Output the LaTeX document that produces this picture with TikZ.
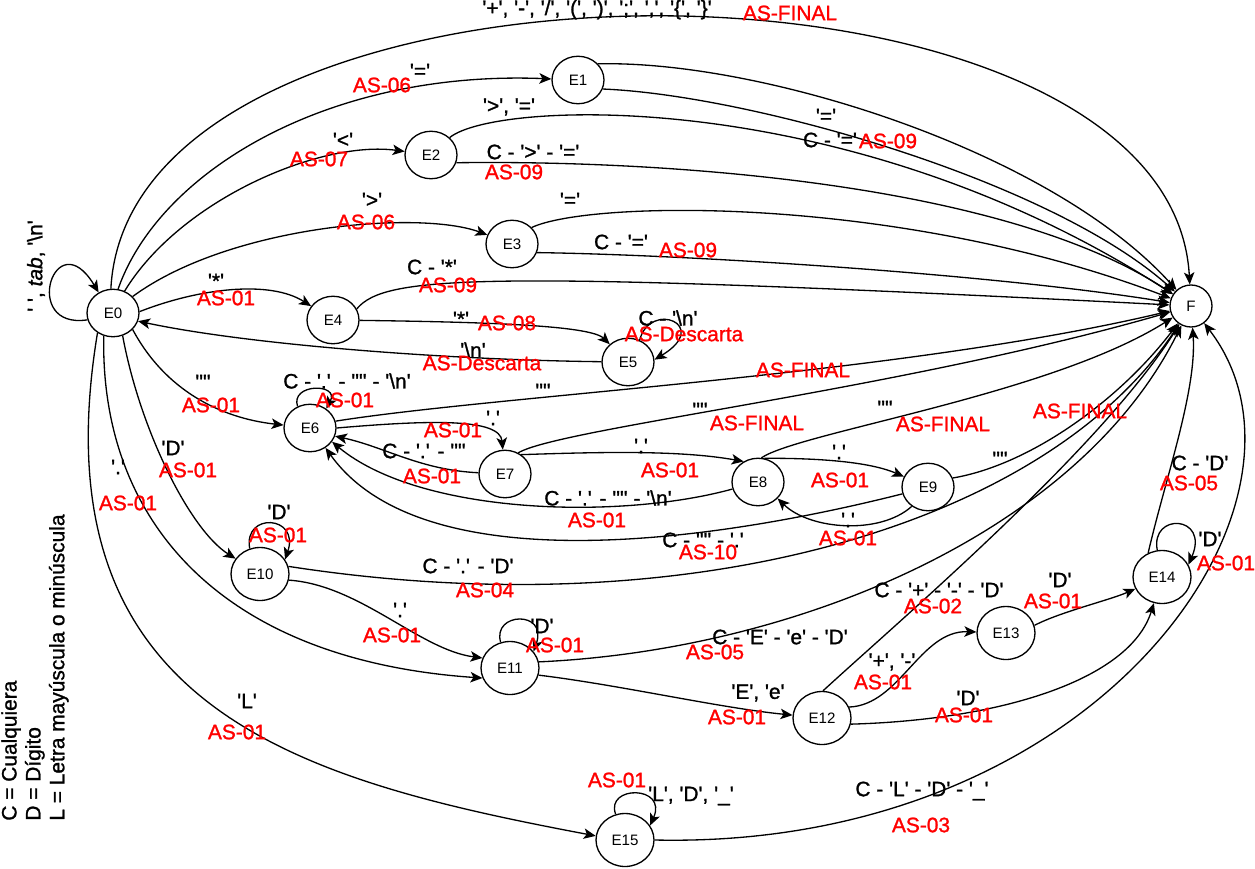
\documentclass[tikz,border=0pt]{standalone}
\usepackage{fontspec}
\setmainfont{Liberation Sans}[Ligatures=TeXOff]
\newfontfamily\lblfamily{Liberation Sans}[Ligatures=TeXOff, FakeBold=1.2]
\usetikzlibrary{arrows.meta,shapes.geometric}
\newcommand\lblsize{\lblfamily\fontsize{11.9pt}{13.6pt}\selectfont}
\newcommand\stsize{\fontsize{8.6pt}{10pt}\selectfont}
\newcommand\bsl{\textbackslash}
\definecolor{asred}{RGB}{255,0,0}
\begin{document}
\begin{tikzpicture}[x=0.02cm,y=-0.02cm,
  st/.style={draw, ellipse, line width=0.75pt, fill=white, inner sep=0pt,
    minimum width=1.04cm, minimum height=0.95cm, font=\stsize},
  stbig/.style={st, minimum width=1.16cm, minimum height=1.06cm},
  fin/.style={st, circle, minimum size=0.84cm},
  ed/.style={line width=0.75pt, -{Stealth[length=2.4mm,width=2.1mm,inset=0.6mm]}},
  lb/.style={font=\lblsize, inner sep=0pt, text=black},
  lr/.style={font=\lblsize, inner sep=0pt, text=asred}]
\useasboundingbox (0,0) rectangle (1255,869);

% states
\node[st] (E0) at (113,313) {E0};
\node[st] (E1) at (578,80) {E1};
\node[st] (E2) at (431,155) {E2};
\node[st] (E3) at (512,244) {E3};
\node[st] (E4) at (333,320) {E4};
\node[st] (E5) at (628,362) {E5};
\node[st] (E6) at (310,428) {E6};
\node[st] (E7) at (505,474) {E7};
\node[st] (E8) at (758,482) {E8};
\node[st] (E9) at (928,487) {E9};
\node[stbig] (E10) at (260,574) {E10};
\node[stbig] (E11) at (510,668) {E11};
\node[stbig] (E12) at (822,718) {E12};
\node[stbig] (E13) at (1006,633) {E13};
\node[stbig] (E14) at (1162,577) {E14};
\node[stbig] (E15) at (625,840) {E15};
\node[fin] (F) at (1191,306) {F};

% transitions
\draw[ed] (E0.195) .. controls (20,330) and (55,220) .. (E0.125);
\draw[ed] (E0.95) .. controls (130,-73) and (1170,-73) .. (F);
\draw[ed] (E0.78) .. controls (160,170) and (330,70) .. (E1);
\draw[ed] (E0.62) .. controls (180,200) and (320,140) .. (E2);
\draw[ed] (E0.40) .. controls (230,225) and (420,210) .. (E3);
\draw[ed] (E0.3) .. controls (200,288) and (270,280) .. (E4);
\draw[ed] (E5) .. controls (450,360) and (250,345) .. (E0.-18);
\draw[ed] (E4) .. controls (480,322) and (590,325) .. (E5);
\draw[ed] (E5.62) .. controls (650,300) and (712,325) .. (E5.5);
\draw[ed] (E4.25) .. controls (385,275) and (480,270) .. (F);
\draw[ed] (E1.39) .. controls (760,60) and (1050,150) .. (F);
\draw[ed] (E1.-20) .. controls (750,95) and (1050,180) .. (F);
\draw[ed] (E2.43) .. controls (495,100) and (850,85) .. (F);
\draw[ed] (E2.-17) .. controls (650,160) and (1000,180) .. (F);
\draw[ed] (E3.40) .. controls (590,200) and (900,195) .. (F);
\draw[ed] (E3.-19) .. controls (700,255) and (1000,275) .. (F);
\draw[ed] (E0.-40) .. controls (165,390) and (220,418) .. (E6);
\draw[ed] (E6.120) .. controls (290,383) and (340,383) .. (E6.50);
\draw[ed] (E6.15) .. controls (500,395) and (900,375) .. (F);
\draw[ed] (E6.0) .. controls (430,420) and (500,418) .. (E7);
\draw[ed] (E7) .. controls (420,470) and (385,447) .. (E6.-18);
\draw[ed] (E7.58) .. controls (560,428) and (900,390) .. (F);
\draw[ed] (E7.50) .. controls (600,452) and (680,450) .. (E8.125);
\draw[ed] (E8.82) .. controls (800,432) and (1050,395) .. (F);
\draw[ed] (E8.75) .. controls (820,458) and (870,462) .. (E9);
\draw[ed] (E8) .. controls (620,520) and (420,515) .. (E6.-32);
\draw[ed] (E9.-130) .. controls (880,535) and (810,530) .. (E8.-40);
\draw[ed] (E9.195) .. controls (700,545) and (420,580) .. (E6.-52);
\draw[ed] (E9.20) .. controls (1030,465) and (1120,400) .. (F);
\draw[ed] (E0.-67) .. controls (140,430) and (190,530) .. (E10);
\draw[ed] (E10.112) .. controls (243,512) and (300,515) .. (E10.30);
\draw[ed] (E10.15) .. controls (700,630) and (1050,520) .. (F);
\draw[ed] (E10.-12) .. controls (360,585) and (420,650) .. (E11.160);
\draw[ed] (E0.-112) .. controls (100,520) and (220,660) .. (E11.200);
\draw[ed] (E0.-128) .. controls (35,710) and (300,780) .. (E15.172);
\draw[ed] (E11.110) .. controls (492,612) and (548,610) .. (E11.35);
\draw[ed] (E11.12) .. controls (800,650) and (1080,530) .. (F);
\draw[ed] (E11.-14) .. controls (620,685) and (720,708) .. (E12);
\draw[ed] (E12.88) .. controls (900,620) and (1100,450) .. (F);
\draw[ed] (E12.22) .. controls (900,705) and (920,630) .. (E13);
\draw[ed] (E12.-12) .. controls (1000,720) and (1130,680) .. (E14);
\draw[ed] (E13.15) .. controls (1060,612) and (1110,600) .. (E14);
\draw[ed] (E14.100) .. controls (1150,512) and (1210,515) .. (E14.25);
\draw[ed] (E14.120) .. controls (1165,480) and (1197,390) .. (F);
\draw[ed] (E15.110) .. controls (605,785) and (668,785) .. (E15.30);
\draw[ed] (E15.0) .. controls (1100,850) and (1340,500) .. (F);

% transition labels
\node[lb, rotate=90] (t01) at (36,266) {' ', \textit{tab}, '\bsl n'};
\node[lb, anchor=base] (t02a) at (597,15) {'+', '-', '/', '(', ')', ';', ',', '\{', '\}'};
\node[lr] (t02b) at (790,13) {AS-FINAL};
\node[lb] (t03a) at (420,71) {'='};
\node[lr] (t03b) at (382,85) {AS-06};
\node[lb] (t04a) at (343,140) {'<'};
\node[lr] (t04b) at (319,159) {AS-07};
\node[lb] (t05a) at (372,200) {'>'};
\node[lr] (t05b) at (366,222) {AS-06};
\node[lb] (t06a) at (216,281) {'*'};
\node[lr] (t06b) at (226,298) {AS-01};
\node[lb] (t07a) at (432,267) {C - '*'};
\node[lr] (t07b) at (448,285) {AS-09};
\node[lb] (t08a) at (461,319) {'*'};
\node[lr] (t08b) at (507,323) {AS-08};
\node[lb] (t09a) at (473,350) {'\bsl n'};
\node[lr] (t09b) at (482,363) {AS-Descarta};
\node[lb] (t10a) at (668,318) {C - '\bsl n'};
\node[lr] (t10b) at (684,334) {AS-Descarta};
\node[lb] (t11a) at (826,116) {'='};
\node[lb] (t12a) at (830,140) {C - '='};
\node[lr] (t12b) at (888,141) {AS-09};
\node[lb] (t13a) at (509,107) {'>', '='};
\node[lb] (t14a) at (533,152) {C - '>' - '='};
\node[lr] (t14b) at (514,172) {AS-09};
\node[lb] (t15a) at (570,200) {'='};
\node[lb] (t16a) at (621,242) {C - '='};
\node[lr] (t16b) at (688,250) {AS-09};
\node[lb] (t17a) at (203,382) {'"'};
\node[lr] (t17b) at (211,405) {AS-01};
\node[lb] (t18a) at (347,381) {C - '.' - '"' - '\bsl n'};
\node[lr] (t18b) at (345,400) {AS-01};
\node[lb] (t19a) at (543,391) {'"'};
\node[lr] (t19b) at (803,370) {AS-FINAL};
\node[lb] (t20a) at (493,418) {'.'};
\node[lr] (t20b) at (453,430) {AS-01};
\node[lb] (t21a) at (424,451) {C - '.' - '"'};
\node[lr] (t21b) at (432,476) {AS-01};
\node[lb] (t22a) at (700,410) {'"'};
\node[lr] (t22b) at (757,423) {AS-FINAL};
\node[lb] (t23a) at (641,446) {'.'};
\node[lr] (t23b) at (670,470) {AS-01};
\node[lb] (t24a) at (885,408) {'"'};
\node[lr] (t24b) at (943,424) {AS-FINAL};
\node[lb] (t25a) at (839,452) {'.'};
\node[lr] (t25b) at (840,480) {AS-01};
\node[lb] (t26a) at (608,498) {C - '.' - '"' - '\bsl n'};
\node[lr] (t26b) at (597,520) {AS-01};
\node[lb] (t27a) at (848,520) {'.'};
\node[lr] (t27b) at (848,538) {AS-01};
\node[lb] (t28a) at (703,540) {C - '"' - '.'};
\node[lr] (t28b) at (708,552) {AS-10};
\node[lb] (t29a) at (1000,459) {'"'};
\node[lr] (t29b) at (1080,411) {AS-FINAL};
\node[lb] (t30a) at (173,448) {'D'};
\node[lr] (t30b) at (188,470) {AS-01};
\node[lb] (t31a) at (279,512) {'D'};
\node[lr] (t31b) at (278,535) {AS-01};
\node[lb] (t32a) at (468,566) {C - '.' - 'D'};
\node[lr] (t32b) at (485,590) {AS-04};
\node[lb] (t33a) at (400,610) {'.'};
\node[lr] (t33b) at (392,635) {AS-01};
\node[lb] (t34a) at (118,467) {'.'};
\node[lr] (t34b) at (128,503) {AS-01};
\node[lb] (t35a) at (542,626) {'D'};
\node[lr] (t35b) at (555,645) {AS-01};
\node[lb] (t36a) at (780,637) {C - 'E' - 'e' - 'D'};
\node[lr] (t36b) at (715,652) {AS-05};
\node[lb] (t37a) at (758,693) {'E', 'e'};
\node[lr] (t37b) at (737,717) {AS-01};
\node[lb] (t38a) at (939,590) {C - '+' - '-' - 'D'};
\node[lr] (t38b) at (933,606) {AS-02};
\node[lb] (t39a) at (892,662) {'+', '-'};
\node[lr] (t39b) at (883,682) {AS-01};
\node[lb] (t40a) at (968,698) {'D'};
\node[lr] (t40b) at (964,715) {AS-01};
\node[lb] (t41a) at (1060,580) {'D'};
\node[lr] (t41b) at (1053,601) {AS-01};
\node[lb] (t42a) at (1210,539) {'D'};
\node[lr] (t42b) at (1226,563) {AS-01};
\node[lb] (t43a) at (1200,463) {C - 'D'};
\node[lr] (t43b) at (1189,483) {AS-05};
\node[lb] (t44a) at (691,796) {'L', 'D', '\_'};
\node[lr] (t44b) at (617,780) {AS-01};
\node[lb] (t45a) at (922,791) {C - 'L' - 'D' - '\_'};
\node[lr] (t45b) at (921,825) {AS-03};
\node[lb] (t46a) at (247,701) {'L'};
\node[lr] (t46b) at (237,732) {AS-01};

% legend
\node[lb, rotate=90, anchor=north west, align=left] (legend) at (1,821)
  {C = Cualquiera\\D = Dígito\\L = Letra mayúscula o minúscula};
\end{tikzpicture}
\end{document}
